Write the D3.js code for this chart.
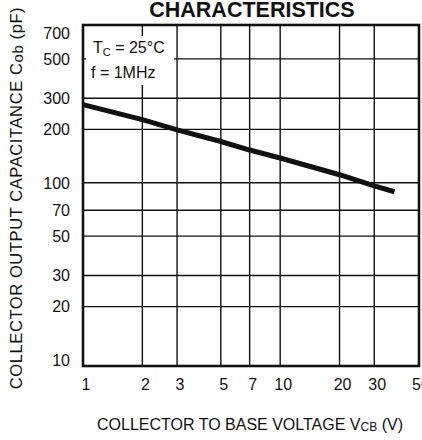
<!DOCTYPE html>
<html>
<head>
<meta charset="utf-8">
<script src="https://cdn.jsdelivr.net/npm/d3@7"></script>
<style>
  body { margin: 0; background: #fff; }
  svg { display: block; font-family: "Liberation Sans", Arial, sans-serif; }
</style>
</head>
<body>
<svg id="chart"></svg>
<script>
// collector output capacitance vs collector-base voltage
const voltage = [1, 2, 3, 5, 7, 10, 20, 30, 38];
const capacitance = [276, 227, 199, 171, 153, 138, 111, 96, 89];

const xTicks = [1, 2, 3, 5, 7, 10, 20, 30, 50];
const yTicks = [10, 20, 30, 50, 70, 100, 200, 300, 500, 700];
const xGrid = [2, 3, 5, 7, 10, 20, 30];
const yGrid = [20, 30, 50, 70, 100, 200, 300, 500];

const w = 422, h = 440;
const pLeft = 83, pRight = 419, pTop = 25, pBottom = 366;

const svg = d3.select("#chart")
              .attr("width", w)
              .attr("height", h);

const x = d3.scaleLog().domain([1, 50]).range([pLeft, 418]);
const y = d3.scaleLog().domain([10, 700]).range([360, 33]);

const ink = "#111";

// grid
svg.append("g")
   .selectAll("line")
   .data(xGrid)
   .enter()
   .append("line")
   .attr("x1", d => x(d)).attr("x2", d => x(d))
   .attr("y1", pTop).attr("y2", pBottom)
   .attr("stroke", ink)
   .attr("stroke-width", 1.4);

svg.append("g")
   .selectAll("line")
   .data(yGrid)
   .enter()
   .append("line")
   .attr("x1", pLeft).attr("x2", pRight)
   .attr("y1", d => y(d)).attr("y2", d => y(d))
   .attr("stroke", ink)
   .attr("stroke-width", 1.4);

// white box behind the conditions
svg.append("rect")
   .attr("x", pLeft + 3).attr("y", 36)
   .attr("width", 88).attr("height", 49)
   .attr("fill", "#fff");

// frame
svg.append("rect")
   .attr("x", pLeft).attr("y", pTop)
   .attr("width", pRight - pLeft).attr("height", pBottom - pTop)
   .attr("fill", "none")
   .attr("stroke", ink)
   .attr("stroke-width", 2.6);

// curve
const line = d3.line()
               .x((d, i) => x(voltage[i]))
               .y(d => y(d));

svg.append("path")
   .datum(capacitance)
   .attr("d", line)
   .attr("fill", "none")
   .attr("stroke", ink)
   .attr("stroke-width", 5);

// tick labels
svg.append("g")
   .selectAll("text")
   .data(xTicks)
   .enter()
   .append("text")
   .attr("x", d => x(d) + 3)
   .attr("y", 390)
   .attr("text-anchor", "middle")
   .attr("font-size", 16)
   .attr("fill", ink)
   .text(d => d);

svg.append("g")
   .selectAll("text")
   .data(yTicks)
   .enter()
   .append("text")
   .attr("x", 70)
   .attr("y", d => y(d))
   .attr("dy", "0.36em")
   .attr("text-anchor", "end")
   .attr("font-size", 16)
   .attr("fill", ink)
   .text(d => d);

// conditions
const cond1 = svg.append("text")
                 .attr("x", 93).attr("y", 53)
                 .attr("font-size", 16)
                 .attr("fill", ink);
cond1.append("tspan").text("T");
cond1.append("tspan").attr("font-size", 11).attr("dy", 3).text("C");
cond1.append("tspan").attr("dy", -3).text(" = 25°C");

svg.append("text")
   .attr("x", 91).attr("y", 78)
   .attr("font-size", 16)
   .attr("fill", ink)
   .text("f = 1MHz");

// title
svg.append("text")
   .attr("x", 252).attr("y", 17)
   .attr("text-anchor", "middle")
   .attr("font-size", 21.5)
   .attr("font-weight", "bold")
   .attr("fill", ink)
   .text("CHARACTERISTICS");

// axis titles
const xt = svg.append("text")
              .attr("x", 250).attr("y", 430)
              .attr("text-anchor", "middle")
              .attr("font-size", 16)
              .attr("fill", ink);
xt.append("tspan").text("COLLECTOR TO BASE VOLTAGE  V");
xt.append("tspan").attr("font-size", 12).attr("dy", 1).text("CB");
xt.append("tspan").attr("dy", -1).text(" (V)");

const yt = svg.append("text")
              .attr("transform", "translate(22,198) rotate(-90)")
              .attr("text-anchor", "middle")
              .attr("font-size", 16.5)
              .attr("letter-spacing", 0.6)
              .attr("fill", ink);
yt.append("tspan").text("COLLECTOR OUTPUT CAPACITANCE  C");
yt.append("tspan").attr("font-size", 15).attr("dy", 1).text("ob");
yt.append("tspan").attr("dy", -1).text("  (pF)");
</script>
</body>
</html>
